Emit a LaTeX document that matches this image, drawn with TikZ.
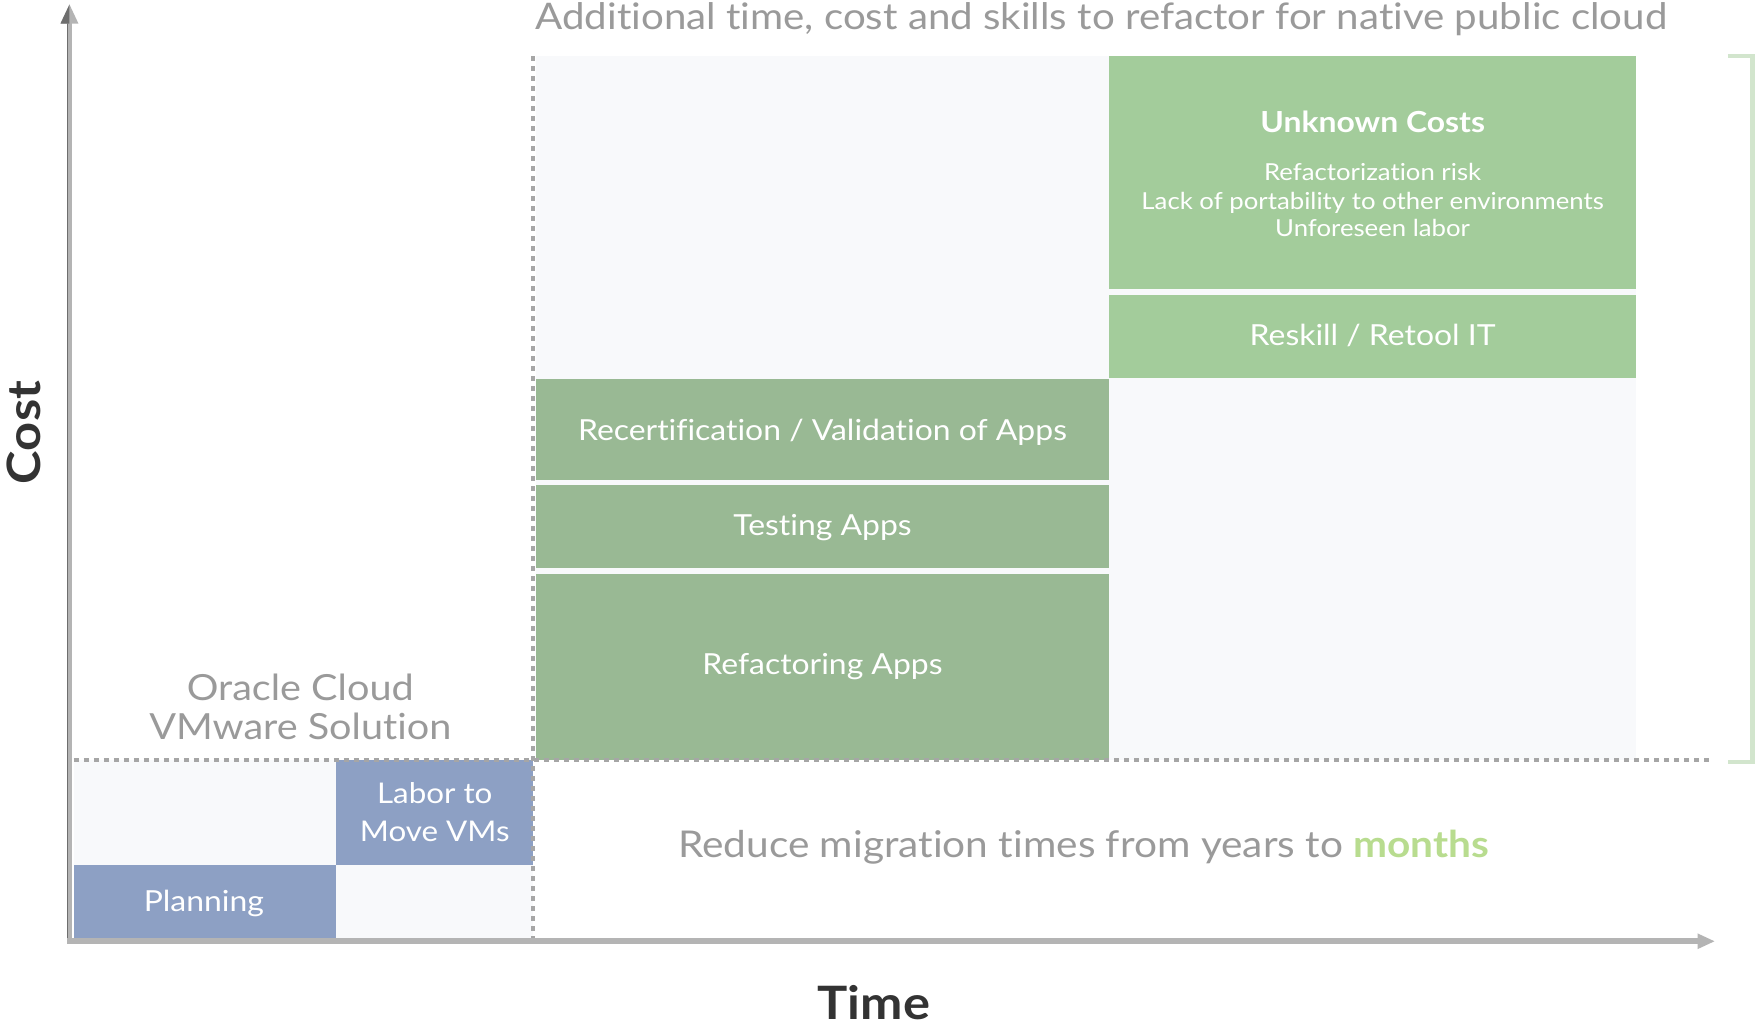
\documentclass[tikz,border=0pt]{standalone}
\usepackage{fontspec}
\setmainfont{Lato}[FakeStretch=1.1, Ligatures=NoCommon]
\usetikzlibrary{fit}
\definecolor{dkgreen}{HTML}{99B994}
\definecolor{ltgreen}{HTML}{A3CC9B}
\definecolor{bluebox}{HTML}{8DA0C4}
\definecolor{palebg}{HTML}{F8F9FB}
\definecolor{axisgray}{HTML}{B4B4B4}
\definecolor{axisdark}{HTML}{6E6E6E}
\definecolor{dotgray}{HTML}{A6A6A6}
\definecolor{bracketgreen}{HTML}{D2E5CD}
\definecolor{monthsgreen}{HTML}{B8DC8F}
\definecolor{txtgray}{HTML}{9A9A9A}
\definecolor{darktxt}{HTML}{333333}
\tikzset{
  blk/.style={inner sep=0pt, outer sep=0pt},
  dk/.style={blk, fill=dkgreen},
  lt/.style={blk, fill=ltgreen},
  bl/.style={blk, fill=bluebox},
  pale/.style={blk, fill=palebg},
  dots/.style={draw=dotgray, line width=4pt, dash pattern=on 5pt off 5pt},
  wtxt/.style={text=white, inner sep=0pt, anchor=base},
  gtxt/.style={text=txtgray, inner sep=0pt, anchor=base},
  boxtxt/.style={wtxt, font=\fontsize{29}{34}\selectfont},
}
\begin{document}
\begin{tikzpicture}[x=1.1205pt,y=-1.1205pt]
\useasboundingbox[fill=white] (0,0) rectangle (1568,917);

% pale backgrounds
\node[pale, fit={(478,50) (1460,678)}] (bgR) {};
\node[pale, fit={(66,678) (476,838)}] (bgL) {};

% green boxes left column
\node[dk, fit={(478,338) (990,428)}] (recert) {};
\node[dk, fit={(478,433) (990,507)}] (testing) {};
\node[dk, fit={(478,512) (990,678)}] (refact) {};
\node[boxtxt] (recertT) at (734,393) {Recertification / Validation of Apps};
\node[boxtxt] (testingT) at (734,478) {Testing Apps};
\node[boxtxt] (refactT) at (734,602) {Refactoring Apps};

% green boxes right column
\node[lt, fit={(990,50) (1460,258)}] (unknown) {};
\node[lt, fit={(990,263) (1460,337)}] (reskill) {};
\node[boxtxt] (reskillT) at (1225,308) {Reskill / Retool IT};
\node[wtxt, font=\bfseries\fontsize{29}{34}\selectfont] (unkT) at (1225,118.5) {Unknown Costs};
\node[wtxt, font=\fontsize{23.4}{28}\selectfont] (unkA) at (1225,161.5) {Refactorization risk};
\node[wtxt, font=\fontsize{23.4}{28}\selectfont] (unkB) at (1225,187.4) {Lack of portability to other environments};
\node[wtxt, font=\fontsize{23.4}{28}\selectfont] (unkC) at (1225,211.2) {Unforeseen labor};

% blue boxes
\node[bl, fit={(66,772) (300,838)}] (planning) {};
\node[bl, fit={(300,678) (476,772)}] (labor) {};
\node[wtxt, font=\fontsize{29}{34}\selectfont] (planningT) at (182,813.6) {Planning};
\node[wtxt, font=\fontsize{28.5}{34}\selectfont] (laborA) at (388,717.5) {Labor to};
\node[wtxt, font=\fontsize{28.5}{34}\selectfont] (laborB) at (388,751.2) {Move VMs};

% dotted lines
\coordinate (dvT) at (476,50);
\coordinate (dvB) at (476,840);
\coordinate (dhL) at (66,678);
\coordinate (dhR) at (1528,678);
\draw[dots] (dvT) -- (dvB);
\draw[dots] (dhL) -- (dhR);

% bracket
\coordinate (brA) at (1542,50);
\coordinate (brB) at (1564,50);
\coordinate (brC) at (1564,680);
\coordinate (brD) at (1542,680);
\draw[bracketgreen, line width=4.5pt] (brA) -- (brB) -- (brC) -- (brD);

% axes
\coordinate (origin) at (62,840);
\coordinate (ytip) at (62,4);
\coordinate (xtip) at (1530,840);
\draw[axisgray, line width=5pt] (origin) -- (62,20);
\draw[axisdark, line width=1.5pt] (60.3,842) -- (60.3,20);
\fill[axisgray] (ytip) -- (70,21) -- (54,21) -- cycle;
\fill[axisdark] (ytip) -- (54,21) -- (62,21) -- cycle;
\draw[axisgray, line width=6pt] (60,840) -- (1516,840);
\fill[axisgray] (xtip) -- (1515,833) -- (1515,847) -- cycle;

% texts
\node[gtxt, font=\fontsize{36.6}{40}\selectfont] (title) at (983,26) {Additional time, cost and skills to refactor for native public cloud};
\node[gtxt, font=\fontsize{36}{40}\selectfont] (oracleA) at (268,624.7) {Oracle Cloud};
\node[gtxt, font=\fontsize{36}{40}\selectfont] (oracleB) at (268,659.8) {VMware Solution};
\node[gtxt, font=\fontsize{36.9}{40}\selectfont] (reduce) at (967,765) {Reduce migration times from years to \textcolor{monthsgreen}{\bfseries months}};
\node[text=darktxt, inner sep=0pt, anchor=base, rotate=90, font=\bfseries\fontsize{46}{50}\selectfont] (cost) at (35.7,386) {Cost};
\node[text=darktxt, inner sep=0pt, anchor=base, font=\bfseries\fontsize{46}{50}\selectfont] (time) at (780,910) {Time};
\end{tikzpicture}
\end{document}
